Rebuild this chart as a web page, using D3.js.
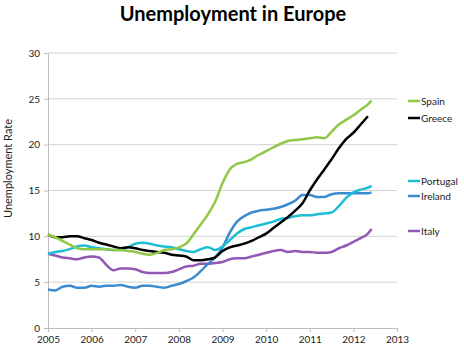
<!DOCTYPE html>
<html>
<head>
<meta charset="utf-8">
<script src="https://cdn.jsdelivr.net/npm/d3@7"></script>
<style>
  html, body { margin: 0; padding: 0; background: #fff; }
  svg { display: block; font-family: Lato, "Open Sans", sans-serif; }
</style>
</head>
<body>
<svg id="chart" width="464" height="351"></svg>
<script>
// Month offsets from Jan 2005 (bi-monthly samples, last one Jun 2012)
const months = [0,2,4,6,8,10,12,14,16,18,20,22,24,26,28,30,32,34,36,38,40,42,44,46,48,50,52,54,56,58,60,62,64,66,68,70,72,74,76,78,80,82,84,86,88,89];

const spain = [10.2,9.9,9.5,9.1,8.7,8.6,8.6,8.6,8.6,8.5,8.5,8.4,8.3,8.1,8.0,8.2,8.5,8.6,8.8,9.2,10.2,11.3,12.4,13.8,15.8,17.3,17.9,18.1,18.4,18.9,19.3,19.7,20.1,20.4,20.5,20.6,20.7,20.8,20.7,21.4,22.2,22.7,23.2,23.8,24.4,24.8];
const greece = [10.2,9.9,9.9,10.0,10.0,9.8,9.6,9.3,9.1,8.9,8.7,8.8,8.7,8.5,8.4,8.3,8.2,8.0,7.9,7.8,7.4,7.4,7.5,7.7,8.4,8.8,9.0,9.2,9.5,9.9,10.3,10.9,11.5,12.1,12.8,13.6,15.0,16.2,17.3,18.4,19.6,20.6,21.3,22.2,23.1,null];
const portugal = [8.1,8.3,8.4,8.6,8.9,9.0,8.8,8.7,8.6,8.5,8.5,8.8,9.2,9.3,9.2,9.0,8.9,8.8,8.6,8.4,8.3,8.6,8.8,8.5,8.9,9.6,10.3,10.8,11.0,11.2,11.4,11.6,11.9,12.0,12.2,12.3,12.3,12.4,12.5,12.6,13.3,14.2,14.8,15.1,15.3,15.5];
const ireland = [4.2,4.1,4.5,4.6,4.4,4.4,4.6,4.5,4.6,4.6,4.7,4.5,4.4,4.6,4.6,4.5,4.4,4.6,4.8,5.1,5.5,6.2,7.0,7.7,8.8,10.4,11.6,12.2,12.6,12.8,12.9,13.0,13.2,13.5,13.9,14.5,14.5,14.3,14.3,14.6,14.7,14.7,14.7,14.7,14.7,14.8];
const italy = [8.1,7.9,7.7,7.6,7.5,7.7,7.8,7.7,6.9,6.3,6.5,6.5,6.4,6.1,6.0,6.0,6.0,6.1,6.4,6.7,6.8,7.0,7.0,7.1,7.2,7.5,7.6,7.6,7.8,8.0,8.2,8.4,8.5,8.3,8.4,8.3,8.3,8.2,8.2,8.3,8.7,9.0,9.4,9.8,10.3,10.8];

const seriesNames = ["Italy","Ireland","Portugal","Greece","Spain"];
const seriesValues = [italy, ireland, portugal, greece, spain];
const seriesColors = ["#9158b4","#3a8bd0","#1dbdd3","#000000","#8fc845"];

const xTicks = [2005,2006,2007,2008,2009,2010,2011,2012,2013];
const yTicks = [0,5,10,15,20,25,30];

const title = "Unemployment in Europe";
const yTitle = "Unemployment Rate";

// legend order & label y positions (spread like the original)
const legendNames = ["Spain","Greece","Portugal","Ireland","Italy"];
const legendY = [101, 118, 181, 196, 231];

const svg = d3.select("#chart");
const m = {left: 48, right: 67, top: 53, bottom: 23};
const W = 464, H = 351;

const x = d3.scaleLinear().domain([2005, 2013]).range([m.left, W - m.right]);
const y = d3.scaleLinear().domain([0, 30]).range([H - m.bottom, m.top]);

// title
svg.append("text")
  .attr("x", 233).attr("y", 21)
  .attr("text-anchor", "middle")
  .attr("font-size", 20).attr("font-weight", "bold")
  .attr("fill", "#000")
  .text(title);

// gridlines
svg.append("g").selectAll("line").data(yTicks.filter(d => d > 0)).join("line")
  .attr("x1", x(2005)).attr("x2", x(2013))
  .attr("y1", d => y(d)).attr("y2", d => y(d))
  .attr("stroke", "#d4d4d4").attr("stroke-width", 1);

// y axis
const yAxis = d3.axisLeft(y).tickValues(yTicks).tickSize(4).tickPadding(4);
const gy = svg.append("g").attr("transform", `translate(${x(2005)},0)`).call(yAxis);
gy.select(".domain").attr("stroke", "#bdbdbd");
gy.selectAll(".tick line").attr("stroke", "#bdbdbd");
gy.selectAll("text").attr("font-size", 10).attr("fill", "#222").attr("font-family", "Lato, sans-serif");

// x axis
const xAxis = d3.axisBottom(x).tickValues(xTicks).tickFormat(d3.format("d")).tickSize(4).tickPadding(4);
const gx = svg.append("g").attr("transform", `translate(0,${y(0)})`).call(xAxis);
gx.select(".domain").attr("stroke", "#bdbdbd");
gx.selectAll(".tick line").attr("stroke", "#bdbdbd");
gx.selectAll("text").attr("font-size", 10).attr("fill", "#222").attr("font-family", "Lato, sans-serif");

// y title
svg.append("text")
  .attr("transform", `translate(12,${(y(0) + y(30)) / 2 - 22}) rotate(-90)`)
  .attr("text-anchor", "middle")
  .attr("font-size", 11).attr("fill", "#222")
  .text(yTitle);

// lines
const line = d3.line()
  .defined(d => d.v !== null)
  .x(d => x(2005 + d.m / 12))
  .y(d => y(d.v))
  .curve(d3.curveMonotoneX);

seriesNames.forEach((name, i) => {
  const data = months.map((mo, j) => ({m: mo, v: seriesValues[i][j]}));
  svg.append("path")
    .datum(data)
    .attr("fill", "none")
    .attr("stroke", seriesColors[i])
    .attr("stroke-width", 2.5)
    .attr("stroke-linejoin", "round")
    .attr("d", line);
});

// legend
legendNames.forEach((name, i) => {
  const c = seriesColors[seriesNames.indexOf(name)];
  const g = svg.append("g").attr("transform", `translate(408,${legendY[i]})`);
  g.append("line").attr("x1", 0).attr("x2", 12).attr("y1", 0).attr("y2", 0)
    .attr("stroke", c).attr("stroke-width", 2.5);
  g.append("text").attr("x", 13).attr("y", 3.5)
    .attr("font-size", 10).attr("fill", "#222").text(name);
});
</script>
</body>
</html>
